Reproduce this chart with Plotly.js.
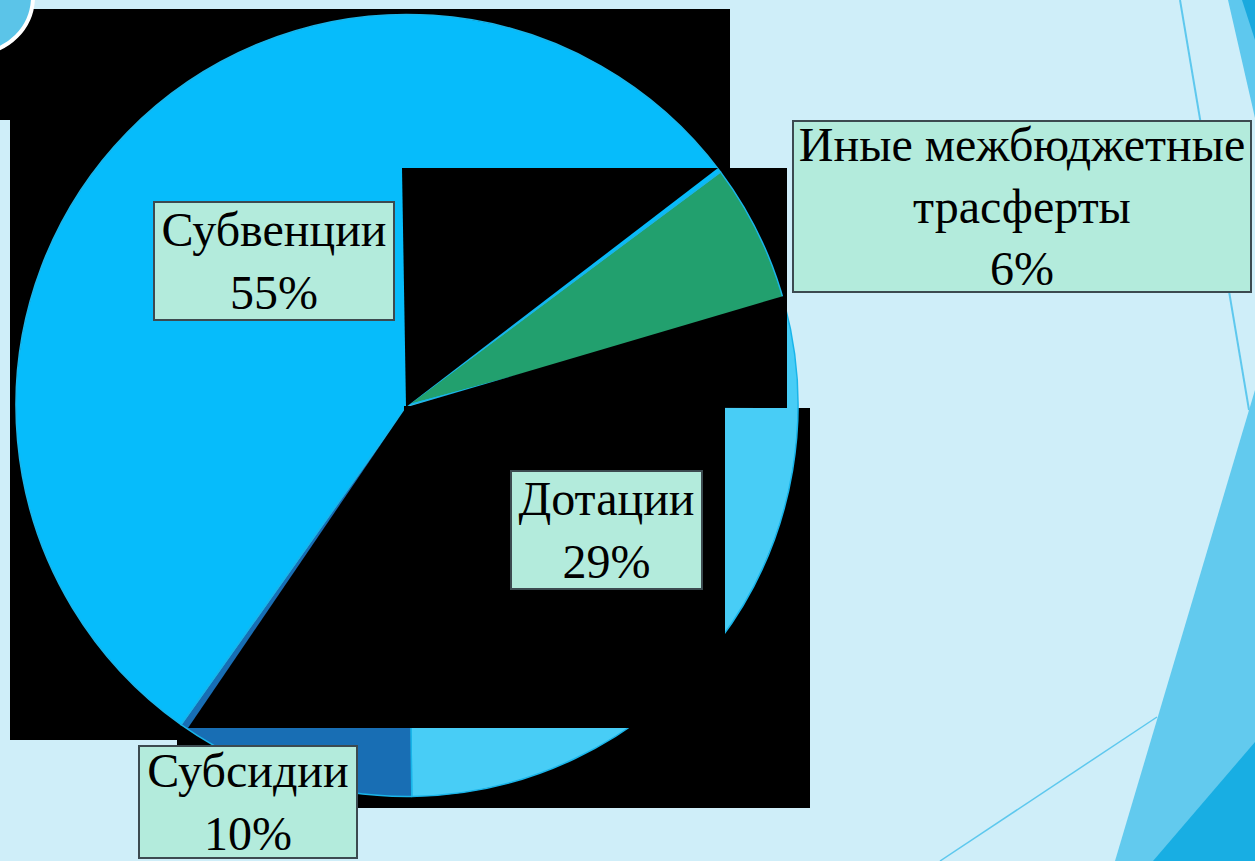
<!DOCTYPE html>
<html>
<head>
<meta charset="utf-8">
<script src="https://cdn.plot.ly/plotly-3.0.1.min.js"></script>
<style>
  html, body { margin: 0; padding: 0; background: #cfeef9; }
  #chart { width: 1255px; height: 861px; }
</style>
</head>
<body>
<div id="chart"></div>
<script>
// slice order goes clockwise from the green wedge
var labels = ['Иные межбюджетные трасферты', 'Дотации', 'Субсидии', 'Субвенции'];
var values = [6, 29, 10, 55];
var colors = ['#22a06e', '#48cdf6', '#186eb4', '#06bcfb'];

var W = 1255, H = 861;
function X(px) { return px / W; }
function Y(py) { return 1 - py / H; }

function rect(x0, y0, x1, y1, fill, layer) {
    return {type: 'rect', xref: 'paper', yref: 'paper', layer: layer,
        x0: X(x0), x1: X(x1), y0: Y(y1), y1: Y(y0),
        fillcolor: fill, line: {width: 0}};
}
function poly(pts, fill, layer) {
    var d = pts.map(function (p, i) {
        return (i ? 'L' : 'M') + X(p[0]).toFixed(5) + ',' + Y(p[1]).toFixed(5);
    }).join(' ') + ' Z';
    return {type: 'path', xref: 'paper', yref: 'paper', layer: layer,
        path: d, fillcolor: fill, line: {width: 0}};
}
function seg(x0, y0, x1, y1, col, w) {
    return {type: 'line', xref: 'paper', yref: 'paper', layer: 'below',
        x0: X(x0), y0: Y(y0), x1: X(x1), y1: Y(y1), line: {color: col, width: w}};
}

var shapes = [
    // slide decoration
    seg(1180, 0, 1249, 410, '#5ec8ee', 2),
    seg(940, 861, 1157, 717, '#5ec8ee', 1.5),
    poly([[1228, 0], [1255, 0], [1255, 118]], '#5ec8ee', 'below'),
    poly([[1242, 0], [1255, 0], [1255, 40]], '#1aa9de', 'below'),
    poly([[1255, 390], [1115, 861], [1255, 861]], '#62caee', 'below'),
    poly([[1255, 742], [1153, 861], [1255, 861]], '#18aee3', 'below'),
    // black rendering blocks behind the pie
    rect(10, 9, 730, 740, '#000000', 'below'),
    rect(0, 9, 10, 120, '#000000', 'below'),
    rect(402, 168, 787, 408, '#000000', 'below'),
    rect(177, 408, 810, 808, '#000000', 'below'),
    {type: 'circle', xref: 'paper', yref: 'paper', layer: 'below',
        x0: X(-80), x1: X(33), y0: Y(53), y1: Y(-60),
        fillcolor: '#5bc4e8', line: {color: '#ffffff', width: 4}},
    // black blocks over the pie
    poly([[402, 168], [718, 168], [406, 407]], '#000000', 'above'),
    poly([[407, 407], [787, 295], [787, 408]], '#000000', 'above'),
    rect(404, 406, 725, 728, '#000000', 'above'),
    poly([[407, 406], [188, 728], [407, 728]], '#000000', 'above')
];

// label boxes: centre and size in pixels
var boxes = [
    {x: 1022, y: 206, w: 456, h: 169},
    {x: 606, y: 530, w: 189, h: 116},
    {x: 248, y: 802, w: 216, h: 110},
    {x: 274, y: 261, w: 238, h: 116}
];

var annotations = labels.map(function (lab, i) {
    var b = boxes[i];
    return {
        xref: 'paper', yref: 'paper', x: X(b.x), y: Y(b.y),
        xanchor: 'center', yanchor: 'middle', showarrow: false,
        text: lab.replace('межбюджетные ', 'межбюджетные<br>') + '<br>' + values[i] + '%',
        width: b.w, height: b.h, borderpad: 0,
        bgcolor: '#b3ebdc', bordercolor: '#3c4a50', borderwidth: 2,
        font: {family: '"Liberation Serif", serif', size: 48, color: '#000000'}
    };
});

var data = [{
    type: 'pie',
    labels: labels,
    values: values,
    sort: false,
    direction: 'clockwise',
    rotation: 53.3,
    textinfo: 'none',
    hoverinfo: 'label+percent',
    marker: {colors: colors, line: {color: '#19b5ea', width: 1.5}},
    domain: {x: [X(16), X(798)], y: [Y(797), Y(14)]}
}];

var layout = {
    width: 1255,
    height: 861,
    margin: {l: 0, r: 0, t: 0, b: 0},
    paper_bgcolor: '#cfeef9',
    plot_bgcolor: '#cfeef9',
    showlegend: false,
    shapes: shapes,
    annotations: annotations
};

Plotly.newPlot('chart', data, layout, {displayModeBar: false});
</script>
</body>
</html>
